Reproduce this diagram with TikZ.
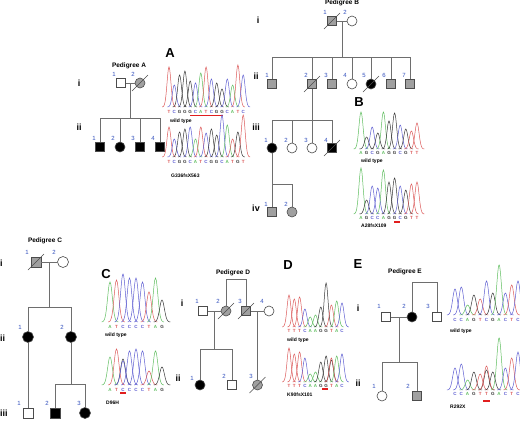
\documentclass[tikz,border=0pt]{standalone}
\usepackage{fontspec}
\setmainfont{Liberation Sans}
\usetikzlibrary{calc}
\definecolor{cA}{RGB}{95,190,95}
\definecolor{cC}{RGB}{95,95,210}
\definecolor{cG}{RGB}{55,55,55}
\definecolor{cT}{RGB}{220,90,90}
\definecolor{numblue}{RGB}{50,80,190}
\definecolor{lgrey}{RGB}{110,110,110}
\definecolor{carrier}{RGB}{160,160,160}
\definecolor{mred}{RGB}{225,30,30}
\tikzset{
 pl/.style={draw=lgrey, line width=0.8pt},
 ind/.style={draw=black!70, line width=0.6pt, inner sep=0pt, fill=white},
 male/.style={ind, rectangle, minimum size=9pt},
 female/.style={ind, circle, minimum size=10pt},
 bigm/.style={minimum size=10pt},
 bigf/.style={minimum size=11pt},
 aff/.style={fill=black},
 car/.style={fill=carrier},
 num/.style={font=\fontsize{6}{6}\selectfont, text=numblue, inner sep=0},
 gen/.style={font=\bfseries\fontsize{9}{9}\selectfont, inner sep=0},
 ptitle/.style={font=\bfseries\fontsize{6.5}{6.5}\selectfont, inner sep=0},
 panel/.style={font=\bfseries\fontsize{13}{13}\selectfont, inner sep=0},
 clab/.style={font=\bfseries\fontsize{5}{5}\selectfont, inner sep=0, anchor=west},
 basel/.style={font=\bfseries\fontsize{4.5}{4.5}\selectfont, inner sep=0},
 mbar/.style={draw=mred, line width=1.4pt},
}
\newcommand\dec[1]{\draw[black!70, line width=0.6pt] ([shift={(-8,8)}]#1.center) -- ([shift={(8,-8)}]#1.center);}
% #1 x, #2 baseline, #3 height, #4 colour, #5 spacing
\newcommand\pk[5]{%
 \pgfmathsetmacro\pkd{1.3*#5}%
 \pgfmathsetmacro\pkw{0.27*#5*#5}%
 \draw[#4, line width=0.5pt] plot[domain=-\pkd:\pkd, samples=25, smooth] ({#1+\x},{#2-#3*exp(-(\x*\x)/\pkw)});}
% #1 x0, #2 baseline, #3 dx, #4 letter offset, #5 name prefix, #6 list
\newcommand\chrom[6]{%
 \foreach \L/\h [count=\i from 0] in {#6}{%
   \pgfmathsetmacro\cx{#1+\i*#3}%
   \pk{\cx}{#2}{\h}{c\L}{#3}
   \node[basel, text=c\L] (#5\i) at (\cx, #2+#4) {\L};
 }}
\begin{document}
\begin{tikzpicture}[x=1pt, y=-1pt]
\fill[white] (0,0) rectangle (520,421);
\useasboundingbox (0,0) rectangle (520,421);

% ================= Pedigree A =================
\node[ptitle] (tA) at (129,66) {Pedigree A};
\node[gen] (gAi) at (79,83) {i};
\node[gen] (gAii) at (79,127) {ii};
\node[male] (A1) at (121,83) {};
\node[female,car] (A2) at (140,83) {};
\draw[pl] (A1) -- (A2);
\dec{A2}
\coordinate (Am) at ($(A1)!0.5!(A2)$);
\coordinate (As) at (130.5,118);
\draw[pl] (Am) -- (As);
\node[male,aff] (A21) at (100,147) {};
\node[female,aff] (A22) at (120,147) {};
\node[male,aff] (A23) at (140,147) {};
\node[male,aff] (A24) at (160,147) {};
\draw[pl] (A21) -- (A21|-As) -- (A24|-As) -- (A24);
\draw[pl] (A22) -- (A22|-As);
\draw[pl] (A23) -- (A23|-As);
\node[num] (nA1) at (114,74) {1};
\node[num] (nA2) at (133,74) {2};
\node[num] (nA21) at (94,138) {1};
\node[num] (nA22) at (113,138) {2};
\node[num] (nA23) at (133,138) {3};
\node[num] (nA24) at (153,138) {4};

% chromatograms A
\node[panel] (pA) at (170,53) {A};
\chrom{169}{107}{5.3}{4.5}{sAw}{T/40,C/22,G/32,G/36,G/26,C/24,A/34,T/40,C/28,G/24,G/18,C/28,A/22,T/42,C/32}
\draw[mbar] (190,115.5) -- (223,115.5);
\node[clab] (wA) at (170,121) {wild type};
\chrom{169}{157}{5.3}{5}{sAm}{T/30,C/18,G/25,G/28,C/30,A/18,T/30,C/24,G/28,G/22,C/42,A/32,T/18,G/25,T/42}
\node[clab] (mA) at (171,176) {G336fsX563};

% ================= Pedigree B =================
\node[ptitle] (tB) at (342,3) {Pedigree B};
\node[gen] (gBi) at (258,20) {i};
\node[gen] (gBii) at (256,76) {ii};
\node[gen] (gBiii) at (256,127) {iii};
\node[gen] (gBiv) at (256,208) {iv};
\node[male,car] (B1) at (332,21) {};
\node[female] (B2) at (352,21) {};
\draw[pl] (B1) -- (B2);
\dec{B1}
\coordinate (Bm) at ($(B1)!0.5!(B2)$);
\coordinate (Bs) at (342,57);
\draw[pl] (Bm) -- (Bs);
\node[male,car] (B21) at (272,84) {};
\node[male,car] (B22) at (312,84) {};
\node[male,car] (B23) at (332,84) {};
\node[female] (B24) at (352,84) {};
\node[female,aff] (B25) at (371,84) {};
\node[male,car] (B26) at (391,84) {};
\node[male,car] (B27) at (410,84) {};
\draw[pl] (B21) -- (B21|-Bs) -- (B27|-Bs) -- (B27);
\foreach \n in {B22,B23,B24,B25,B26} \draw[pl] (\n) -- (\n|-Bs);
\dec{B22}
\dec{B25}
\coordinate (Bt) at (312,120);
\node[female,aff] (B31) at (272,148) {};
\node[female] (B32) at (292,148) {};
\node[female] (B33) at (312,148) {};
\node[male,aff] (B34) at (332,148) {};
\draw[pl] (B22) -- (B33);
\draw[pl] (B31) -- (B31|-Bt) -- (B34|-Bt) -- (B34);
\draw[pl] (B32) -- (B32|-Bt);
\dec{B34}
\coordinate (Bu) at (272,184);
\node[male,car] (B41) at (272,212) {};
\node[female,car] (B42) at (292,212) {};
\draw[pl] (B31) -- (B41);
\draw[pl] (Bu) -- (B42|-Bu) -- (B42);
\node[num] (nB1) at (325,12) {1};
\node[num] (nB2) at (345,12) {2};
\node[num] (nB21) at (267,75) {1};
\node[num] (nB22) at (306,75) {2};
\node[num] (nB23) at (326,75) {3};
\node[num] (nB24) at (345,75) {4};
\node[num] (nB25) at (364,75) {5};
\node[num] (nB26) at (384,75) {6};
\node[num] (nB27) at (404,75) {7};
\node[num] (nB31) at (266,140) {1};
\node[num] (nB32) at (286,140) {2};
\node[num] (nB33) at (306,140) {3};
\node[num] (nB34) at (326,140) {4};
\node[num] (nB41) at (266,204) {1};
\node[num] (nB42) at (286,204) {2};

% chromatograms B
\node[panel] (pB) at (359,102) {B};
\chrom{361}{149}{5.6}{4}{sBw}{A/37,G/12,C/22,G/16,A/37,G/28,G/36,C/24,G/20,T/18,T/26}
\node[clab] (wB) at (361,161) {wild type};
\chrom{361}{214}{5.6}{4}{sBm}{A/46,G/14,C/28,C/26,A/44,G/32,G/36,C/28,G/24,T/30,T/32}
\draw[mbar] (394,222) -- (400,222);
\node[clab] (mB) at (361,226) {A28fsX109};

% ================= Pedigree C =================
\node[ptitle] (tC) at (45,241) {Pedigree C};
\node[gen, anchor=west] (gCi) at (0,263) {i};
\node[gen, anchor=west] (gCii) at (0,338) {ii};
\node[gen, anchor=west] (gCiii) at (0,413) {iii};
\node[male,bigm,car] (C1) at (36,262) {};
\node[female,bigf] (C2) at (63,262) {};
\draw[pl] (C1) -- (C2);
\dec{C1}
\coordinate (Cm) at ($(C1)!0.5!(C2)$);
\coordinate (Cs) at (49.5,307);
\draw[pl] (Cm) -- (Cs);
\node[female,bigf,aff] (C21) at (28,337) {};
\node[female,bigf,aff] (C22) at (71,337) {};
\draw[pl] (C21) -- (C21|-Cs) -- (C22|-Cs) -- (C22);
\node[male,bigm] (C31) at (28,413) {};
\draw[pl] (C21) -- (C31);
\coordinate (Ct) at (71,384);
\node[male,bigm,aff] (C32) at (55,413) {};
\node[female,bigf,aff] (C33) at (85,413) {};
\draw[pl] (C22) -- (Ct);
\draw[pl] (C32) -- (C32|-Ct) -- (C33|-Ct) -- (C33);
\node[num] (nC1) at (27,252) {1};
\node[num] (nC2) at (54,252) {2};
\node[num] (nC21) at (20,327) {1};
\node[num] (nC22) at (62,327) {2};
\node[num] (nC31) at (19,403) {1};
\node[num] (nC32) at (47,403) {2};
\node[num] (nC33) at (79,403) {3};

% chromatograms C
\node[panel] (pC) at (106,274) {C};
\chrom{110}{322}{6.5}{5}{sCw}{A/40,T/42,C/48,C/44,C/44,C/40,T/30,A/44,G/22}
\node[clab] (wC) at (105,335) {wild type};
\pk{123}{385}{26}{cG}{6.5}
\chrom{110}{385}{6.5}{5}{sCm}{A/28,T/36,C/24,C/34,C/36,C/34,T/14,A/34,G/18}
\draw[mbar] (120,393) -- (126,393);
\node[clab] (mC) at (106,403) {D96H};

% ================= Pedigree D =================
\node[ptitle] (tD) at (233,273) {Pedigree D};
\node[gen] (gDi) at (182,303) {i};
\node[gen] (gDii) at (178,378) {ii};
\node[male] (D1) at (203,311) {};
\node[female,car] (D2) at (226,311) {};
\node[male,car] (D3) at (246,311) {};
\node[female] (D4) at (269,311) {};
\coordinate (Dk) at (226,279);
\draw[pl] (D2) -- (Dk) -- (Dk-|D3) -- (D3);
\draw[pl] (D1) -- (D2);
\draw[pl] (D3) -- (D4);
\coordinate (Dm) at ($(D1)!0.5!(D2)$);
\coordinate (Ds) at (214.5,349);
\draw[pl] (Dm) -- (Ds);
\node[female,aff] (D21) at (200,385) {};
\node[male] (D22) at (232,385) {};
\draw[pl] (D21) -- (D21|-Ds) -- (D22|-Ds) -- (D22);
\coordinate (Dn) at ($(D3)!0.5!(D4)$);
\node[female,car] (D23) at (257.5,385) {};
\draw[pl] (Dn) -- (D23);
\dec{D2}
\dec{D3}
\dec{D23}
\node[num] (nD1) at (197,301) {1};
\node[num] (nD2) at (218,301) {2};
\node[num] (nD3) at (240,301) {3};
\node[num] (nD4) at (262,301) {4};
\node[num] (nD21) at (192,378) {1};
\node[num] (nD22) at (224,376) {2};
\node[num] (nD23) at (251,376) {3};

% chromatograms D
\node[panel] (pD) at (288,265) {D};
\chrom{289}{327}{5.3}{3.5}{sDw}{T/32,T/28,T/30,C/18,A/10,A/12,G/20,G/44,T/22,A/26,C/24}
\node[clab] (wD) at (287,340) {wild type};
\pk{331.4}{382}{22}{cG}{5.3}
\chrom{289}{382}{5.3}{3.5}{sDm}{T/34,T/28,T/30,C/24,A/8,A/10,G/20,G/26,T/24,A/26,C/28}
\draw[mbar] (322,389) -- (328,389);
\node[clab] (mD) at (287,395) {K90fsX101};

% ================= Pedigree E =================
\node[panel] (pE) at (358,264) {E};
\node[ptitle] (tE) at (405,272) {Pedigree E};
\node[gen] (gEi) at (358,308) {i};
\node[gen] (gEii) at (358,383) {ii};
\node[male] (E1) at (386,317) {};
\node[female,aff] (E2) at (412,317) {};
\node[male] (E3) at (437,317) {};
\coordinate (Ek) at (412,282);
\draw[pl] (E2) -- (Ek) -- (Ek-|E3) -- (E3);
\draw[pl] (E1) -- (E2);
\coordinate (Em) at ($(E1)!0.5!(E2)$);
\coordinate (Es) at (399,362);
\draw[pl] (Em) -- (Es);
\node[female] (E21) at (382,396) {};
\node[male,car] (E22) at (417,396) {};
\draw[pl] (E21) -- (E21|-Es) -- (E22|-Es) -- (E22);
\node[num] (nE1) at (379,306) {1};
\node[num] (nE2) at (404,306) {2};
\node[num] (nE3) at (428,306) {3};
\node[num] (nE21) at (374,386) {1};
\node[num] (nE22) at (408,386) {2};

% chromatograms E
\chrom{455}{315}{6.3}{5}{sEw}{C/26,C/28,A/10,G/20,T/16,C/34,G/22,A/50,C/22,T/30,C/34}
\node[clab] (wE) at (450,331) {wild type};
\pk{486.5}{390}{20}{cG}{6.3}
\chrom{455}{390}{6.3}{3.5}{sEm}{C/22,C/26,A/10,G/18,T/16,T/24,G/18,A/52,C/22,T/32,C/38}
\draw[mbar] (483,401) -- (490,401);
\node[clab] (mE) at (450,407) {R292X};
\end{tikzpicture}
\end{document}
